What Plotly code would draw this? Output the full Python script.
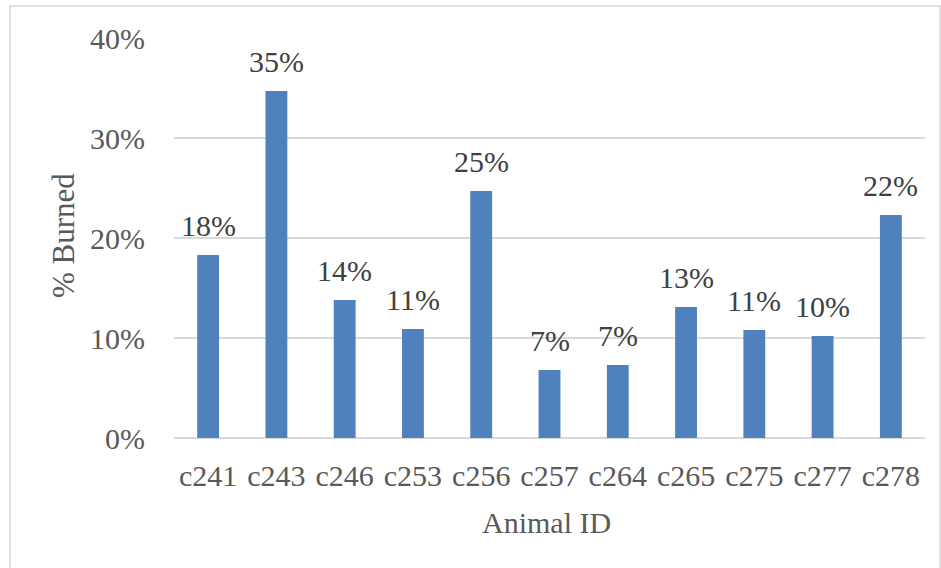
import plotly.graph_objects as go

animal_ids = ["c241", "c243", "c246", "c253", "c256", "c257", "c264", "c265", "c275", "c277", "c278"]
pct_burned = [0.183, 0.347, 0.138, 0.109, 0.247, 0.068, 0.073, 0.131, 0.108, 0.102, 0.223]
y_ticks = [0, 0.1, 0.2, 0.3, 0.4]
y_tick_labels = ["0%", "10%", "20%", "30%", "40%"]

W, H = 941, 568
L, R, T, B = 174, 16, 38, 130
pw, ph = W - L - R, H - T - B
SERIF = "Liberation Serif, Times New Roman, serif"

fig = go.Figure(go.Bar(
    x=animal_ids, y=pct_burned,
    marker=dict(color="#4F81BD", line=dict(width=0)),
    hoverinfo="x+y",
))

labels = [dict(x=a, y=v, xref="x", yref="y", text=f"{round(v*100)}%",
               showarrow=False, xanchor="center", yanchor="bottom", yshift=11,
               font=dict(family=SERIF, size=30, color="#404040"))
          for a, v in zip(animal_ids, pct_burned)]

fig.update_layout(
    width=W, height=H,
    margin=dict(l=L, r=R, t=T, b=B),
    paper_bgcolor="white", plot_bgcolor="white",
    bargap=0.68,
    showlegend=False,
    font=dict(family=SERIF, size=30, color="#595959"),
    xaxis=dict(showgrid=False, showline=False, ticks="", ticklabelstandoff=17,
               tickfont=dict(family=SERIF, size=30, color="#595959")),
    yaxis=dict(range=[0, 0.4], tickvals=y_ticks, ticktext=y_tick_labels,
               showgrid=True, gridcolor="#D9D9D9", gridwidth=1.5,
               zeroline=True, zerolinecolor="#D9D9D9", zerolinewidth=2,
               ticks="", ticklabelstandoff=28, showline=False,
               tickfont=dict(family=SERIF, size=30, color="#595959")),
    annotations=labels + [
        dict(text="% Burned", xref="paper", yref="paper",
             x=(63 - L) / pw, y=(H - B - 236) / ph, textangle=-90,
             showarrow=False, xanchor="center", yanchor="middle",
             font=dict(family=SERIF, size=31, color="#595959")),
        dict(text="Animal ID", xref="paper", yref="paper",
             x=(546 - L) / pw, y=(H - B - 522) / ph,
             showarrow=False, xanchor="center", yanchor="middle",
             font=dict(family=SERIF, size=30, color="#595959")),
    ],
    shapes=[
        dict(type="rect", xref="paper", yref="paper",
             x0=(10 - L) / pw, x1=(940 - L) / pw,
             y0=(H - B - 580) / ph, y1=(H - B - 6) / ph,
             line=dict(color="#D9D9D9", width=1.5), fillcolor="rgba(0,0,0,0)", layer="below"),
    ],
)

fig.write_html("out.html")
